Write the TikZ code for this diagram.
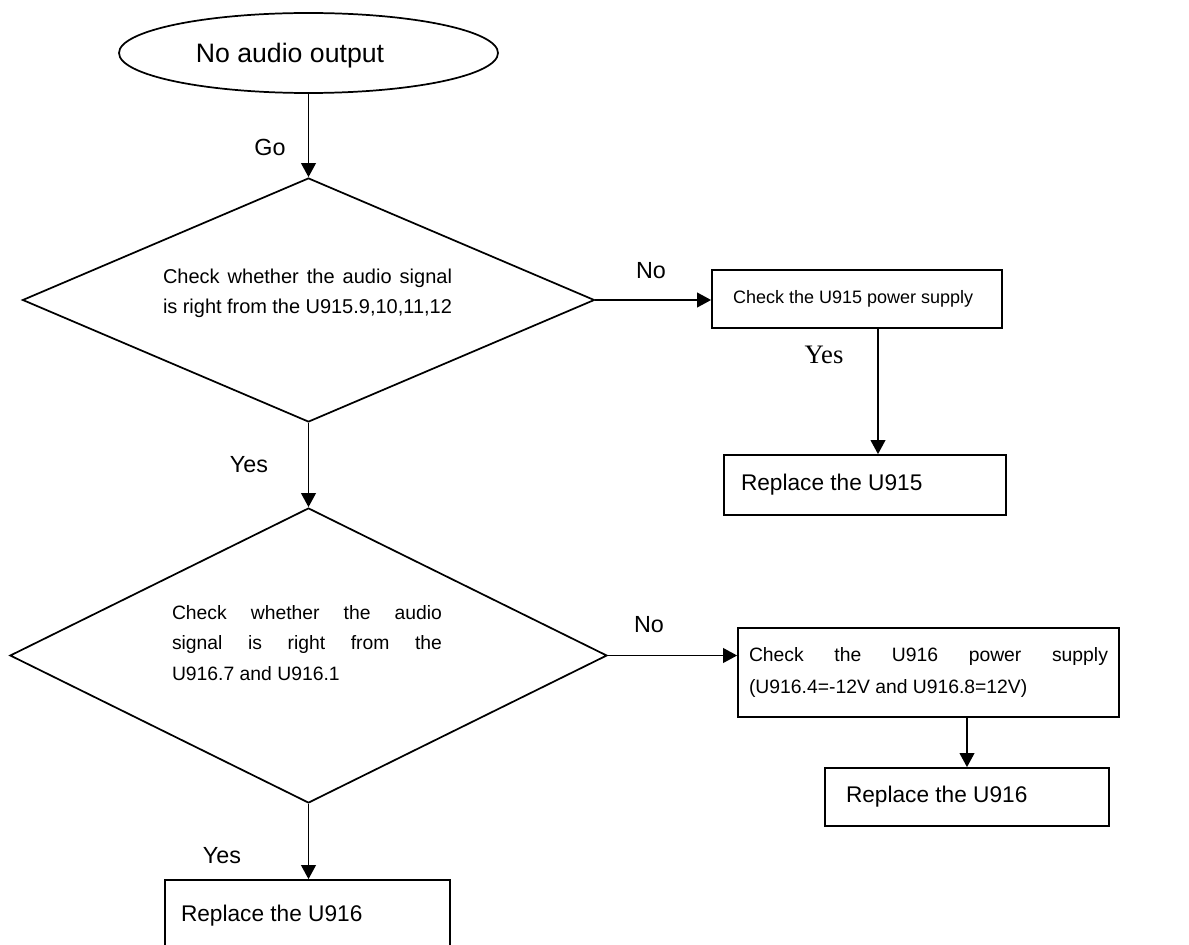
\documentclass[tikz,border=0pt]{standalone}
\usepackage{fontspec}
\setmainfont{Liberation Sans}
\newfontfamily\serifyes{Liberation Serif}
\usetikzlibrary{positioning,arrows.meta,shapes.geometric}
% one line stretched to a given width (Word-style justified line)
\newcommand{\spreadline}[2]{\makebox[#1][s]{\spaceskip=0pt\xspaceskip=0pt\relax #2}}

\begin{document}
\begin{tikzpicture}[x=0.75pt,y=-0.75pt,line width=1.3pt,
  every node/.style={inner sep=0pt},
  startnode/.style={draw,ellipse,minimum width=284.25pt,minimum height=60pt},
  decision/.style={draw,diamond},
  stepbox/.style={draw,rectangle,align=flush left,inner ysep=0pt,minimum height=43.5pt},
  bigtxt/.style={font=\fontsize{17}{20}\selectfont},
  boxtxt/.style={font=\fontsize{15}{22.5}\selectfont},
  lbltxt/.style={font=\fontsize{17.5}{21}\selectfont},
  arr/.style={-{Triangle[length=10.5pt,width=11pt]}}]
  \useasboundingbox (0,0) rectangle (1189,945);

  % left column
  \node[startnode] (start) at (308.5,53) {};
  \node[font=\fontsize{20}{24}\selectfont] (starttxt) at (290,56) {No audio output};
  \node[decision,minimum width=429pt,minimum height=183pt] (d1) at (308.5,300) {};
  \node[boxtxt,text width=216.75pt,align=flush left] (d1txt) at (307.5,293)
    {\spreadline{216.75pt}{Check whether the audio signal}\\
     \spreadline{216.75pt}{is right from the U915.9,10,11,12}};
  \node[decision,minimum width=447.75pt,minimum height=221.25pt] (d2) at (308.5,655.5) {};
  \node[text width=202.5pt,align=flush left,font=\fontsize{14.5}{23}\selectfont] (d2txt) at (307,643)
    {\spreadline{202.5pt}{Check whether the audio}\\
     \spreadline{202.5pt}{signal is right from the}\\
     U916.7 and U916.1};
  \node[stepbox,bigtxt,inner xsep=12pt,text width=189.75pt,minimum height=54pt] (rep916b) at (307.5,916) {Replace the U916};

  % right column
  \node[stepbox,inner xsep=15.75pt,text width=186pt,font=\fontsize{13.5}{16}\selectfont] (chk915) at (857,299) {Check the U915 power supply};
  \node[stepbox,bigtxt,inner xsep=12.75pt,text width=186pt,minimum height=45pt] (rep915) at (865,485) {Replace the U915};
  \node[stepbox,inner xsep=8.25pt,text width=269.25pt,minimum height=66.75pt,
        font=\fontsize{14.5}{24}\selectfont] (chk916) at (928.5,672.5)
    {\spreadline{269.25pt}{Check the U916 power supply}\\
     (U916.4=-12V and U916.8=12V)};
  \node[stepbox,bigtxt,inner xsep=15.75pt,text width=181.5pt] (rep916a) at (967,797) {Replace the U916};

  % connectors
  \draw[arr] (start.south) -- (d1.north);
  \draw[arr] (d1.east) -- (d1.east -| chk915.west);
  \draw[arr] ([xshift=15.75pt]chk915.south) -- ([xshift=15.75pt]chk915.south |- rep915.north);
  \draw[arr] (d1.south) -- (d2.north);
  \draw[arr] (d2.east) -- (d2.east -| chk916.west);
  \draw[arr] (rep916a.north |- chk916.south) -- (rep916a.north);
  \draw[arr] (d2.south) -- (d2.south |- rep916b.north);

  % branch labels
  \node[lbltxt] (go) at (270,147) {Go};
  \node[lbltxt] (no1) at (651,271) {No};
  \node[font=\serifyes\fontsize{20}{24}\selectfont] (yes1) at (824,355) {Yes};
  \node[lbltxt] (yes2) at (249,465) {Yes};
  \node[lbltxt] (no2) at (649,625) {No};
  \node[lbltxt] (yes3) at (222,856) {Yes};
\end{tikzpicture}
\end{document}
